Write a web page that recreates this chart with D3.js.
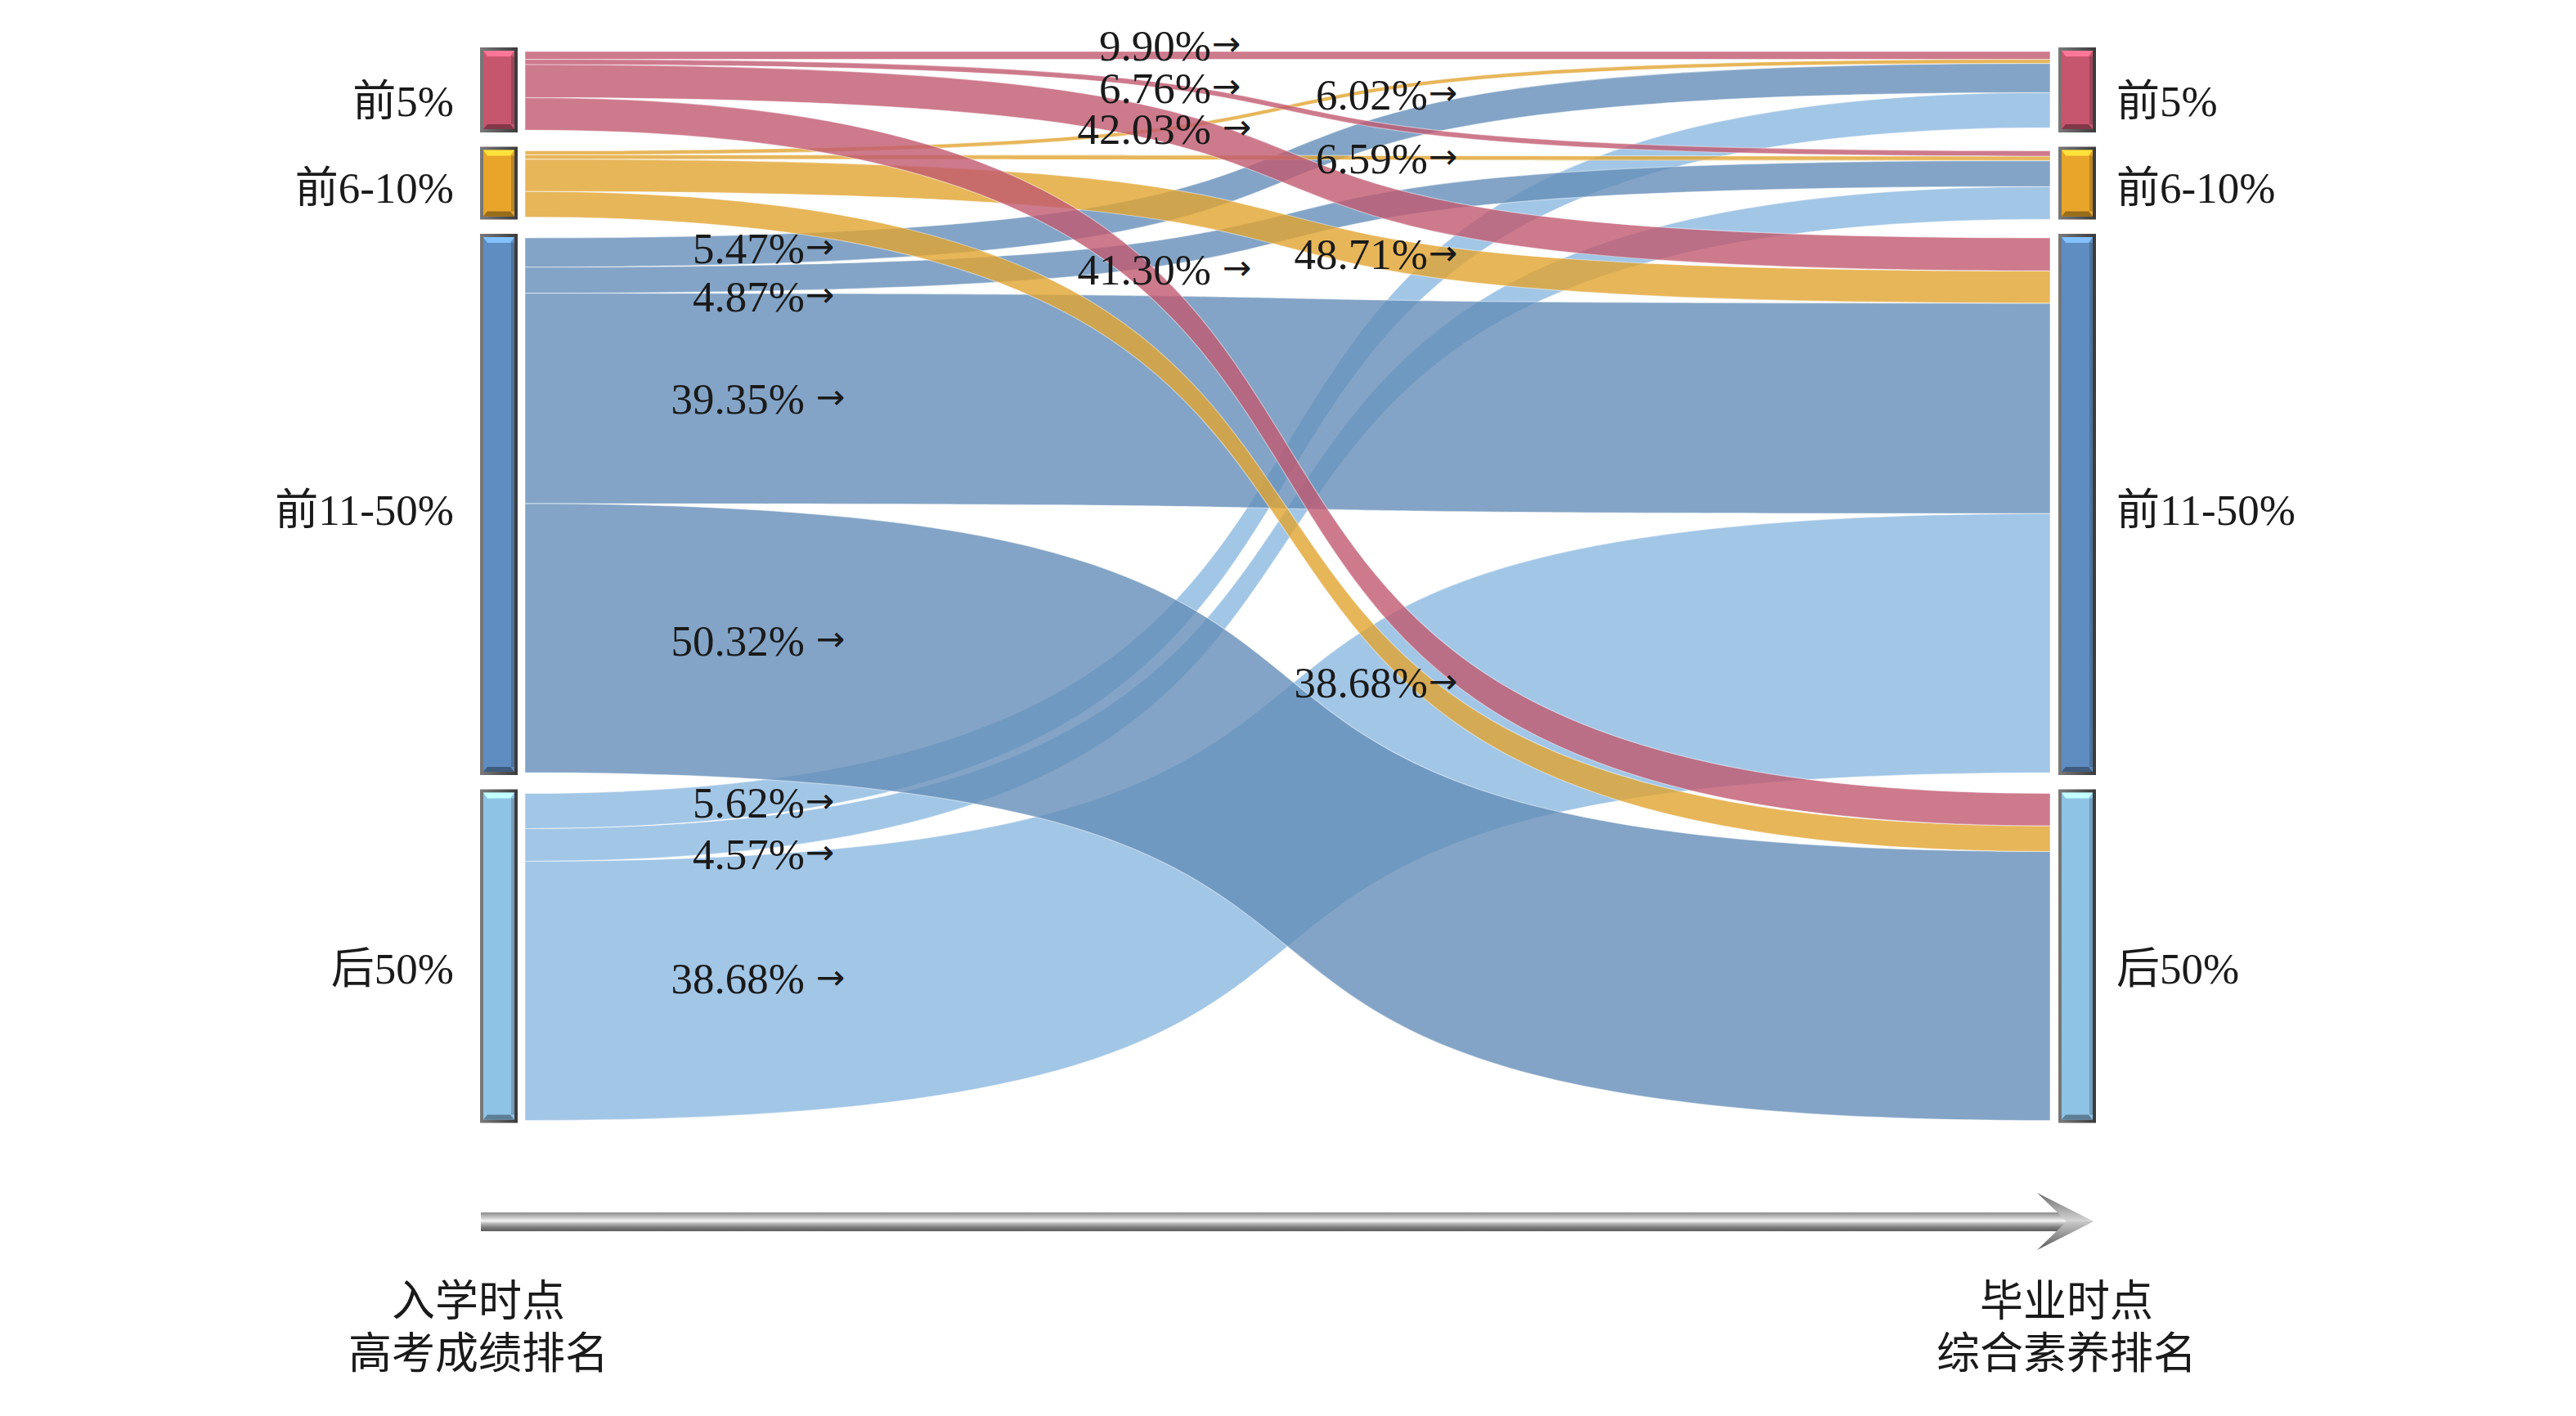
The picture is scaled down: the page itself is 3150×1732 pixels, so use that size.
<!DOCTYPE html>
<html>
<head>
<meta charset="utf-8">
<script src="https://cdn.jsdelivr.net/npm/d3@7"></script>
<style>
  body { margin: 0; background: #fff; }
  text { font-family: "Liberation Serif", "Noto Sans CJK SC", serif; fill: #1a1a1a; }
</style>
</head>
<body>
<div id="chart"></div>
<script>
// rank groups, used on both sides (entry: gaokao rank, graduation: overall rank)
const groups = ["前5%", "前6-10%", "前11-50%", "后50%"];
// relative size of each group
const groupSize = [96, 81, 654, 400];
// share (%) of the source bar covered by the band to each graduation group, as drawn
const bandShare = [
  [9.90, 6.76, 42.03, 41.30],
  [6.02, 6.59, 48.71, 38.68],
  [5.47, 4.87, 39.35, 50.32],
  [10.75, 10.00, 79.25, 0]
];
// printed percentages next to the bands
const flowLabel = [
  ["9.90%→", "6.76%→", "42.03% →", "41.30% →"],
  ["6.02%→", "6.59%→", "48.71%→", "38.68%→"],
  ["5.47%→", "4.87%→", "39.35% →", "50.32% →"],
  ["5.62%→", "4.57%→", "38.68% →", null]
];
const axisText = [["入学时点", "高考成绩排名"], ["毕业时点", "综合素养排名"]];

const nodeColor = ["#c6566e", "#e8a52a", "#5f8dc2", "#8ec3e6"];
const linkColor = ["#c1596f", "#e1a42f", "#648db8", "#8bb8e0"];

const W = 3150, H = 1732;
const topY = 63, bottomY = 1370.5, pad = 25.5;
const barW = 46, leftBarX = 587, rightBarX = 2517;
const curv = 0.72;           // bezier control point position
const fs = 53;

const svg = d3.select("#chart").append("svg")
  .attr("width", W).attr("height", H)
  .attr("viewBox", [0, 0, W, H]);

const y = d3.scaleLinear()
  .domain([0, d3.sum(groupSize)])
  .range([0, bottomY - topY - pad * (groups.length - 1)]);
const x = d3.scaleLinear().domain([0, 1]).range([642, 2507]);

// node positions
let acc = 0;
const nodes = groups.map((g, i) => {
  const y0 = topY + y(acc) + i * pad;
  acc += groupSize[i];
  return { name: g, i, y0, y1: y0 + y(groupSize[i]) };
});

// links, stacked on the left in target order and on the right in source order
const links = [];
const srcOff = nodes.map(n => n.y0);
const tgtOff = nodes.map(n => n.y0);
bandShare.forEach((row, s) => {
  row.forEach((p, t) => {
    if (!p) return;
    const w = y(groupSize[s] * p / 100);
    links.push({ s, t, w, label: flowLabel[s][t], sy0: srcOff[s], sy1: srcOff[s] + w });
    srcOff[s] += w;
  });
});
for (let s = 0; s < groups.length; s++) {
  links.filter(l => l.s === s).forEach(l => {
    l.ty0 = tgtOff[l.t]; l.ty1 = tgtOff[l.t] + l.w;
    tgtOff[l.t] += l.w;
  });
}

function bandPath(l) {
  const x0 = x(0), x1 = x(1), dx = x1 - x0;
  const p = d3.path();
  p.moveTo(x0, l.sy0);
  p.bezierCurveTo(x0 + curv * dx, l.sy0, x1 - curv * dx, l.ty0, x1, l.ty0);
  p.lineTo(x1, l.ty1);
  p.bezierCurveTo(x1 - curv * dx, l.ty1, x0 + curv * dx, l.sy1, x0, l.sy1);
  p.closePath();
  return p.toString();
}

// y of a link's centre line at a given x
function centreAt(l, px) {
  const xn = (px - x(0)) / (x(1) - x(0));
  const bx = t => 3 * (1 - t) * (1 - t) * t * curv + 3 * (1 - t) * t * t * (1 - curv) + t * t * t;
  let lo = 0, hi = 1;
  for (let k = 0; k < 40; k++) { const m = (lo + hi) / 2; if (bx(m) < xn) lo = m; else hi = m; }
  const t = (lo + hi) / 2;
  const yn = 3 * t * t - 2 * t * t * t;
  const a = (l.sy0 + l.sy1) / 2, b = (l.ty0 + l.ty1) / 2;
  return a + (b - a) * yn;
}

const defs = svg.append("defs");
function grad(id, stops, vertical = true) {
  const g = defs.append("linearGradient").attr("id", id)
    .attr("x1", 0).attr("y1", 0).attr("x2", vertical ? 0 : 1).attr("y2", vertical ? 1 : 0);
  stops.forEach(([o, c]) => g.append("stop").attr("offset", o).attr("stop-color", c));
}
grad("shaft", [[0, "#8a8a8a"], [0.25, "#c4c4c4"], [0.45, "#f4f4f4"], [0.6, "#b5b5b5"], [0.8, "#7a7a7a"], [1, "#5e5e5e"]]);
grad("headTop", [[0, "#6c6c6c"], [1, "#d6d6d6"]]);
grad("headBot", [[0, "#c9c9c9"], [1, "#5a5a5a"]]);
grad("frame", [[0, "#7a7a7a"], [0.5, "#5a5a5a"], [1, "#3a3a3a"]], false);

// bands, later sources on top
svg.append("g")
  .selectAll("path")
  .data(links.slice().sort((a, b) => b.s - a.s))
  .join("path")
  .attr("d", bandPath)
  .attr("fill", d => linkColor[d.s])
  .attr("fill-opacity", 0.8)
  .attr("stroke", "#fff")
  .attr("stroke-opacity", 0.45)
  .attr("stroke-width", 1.2);

// bevelled bars
function drawBars(bx) {
  const g = svg.append("g").selectAll("g").data(nodes).join("g");
  const r = d => ({ x: bx, y: d.y0 - 5, h: d.y1 - d.y0 + 8 });
  g.append("rect")
    .attr("x", bx).attr("y", d => r(d).y)
    .attr("width", barW).attr("height", d => r(d).h)
    .attr("fill", "url(#frame)");
  g.append("rect")
    .attr("x", bx + 4).attr("y", d => r(d).y + 4)
    .attr("width", barW - 8).attr("height", d => r(d).h - 8)
    .attr("fill", d => nodeColor[d.i]);
  g.append("path")
    .attr("d", d => {
      const yy = r(d).y + 4;
      return `M${bx + 4},${yy}H${bx + barW - 4}L${bx + barW - 9},${yy + 7}H${bx + 9}Z`;
    })
    .attr("fill", d => d3.color(nodeColor[d.i]).brighter(0.9));
  g.append("path")
    .attr("d", d => {
      const yy = r(d).y + r(d).h - 4;
      return `M${bx + 4},${yy}H${bx + barW - 4}L${bx + barW - 9},${yy - 6}H${bx + 9}Z`;
    })
    .attr("fill", d => d3.color(nodeColor[d.i]).darker(1.2));
  g.append("rect")
    .attr("x", bx + barW - 8).attr("y", d => r(d).y + 11)
    .attr("width", 4).attr("height", d => r(d).h - 21)
    .attr("fill", d => d3.color(nodeColor[d.i]).darker(0.6));
}
drawBars(leftBarX);
drawBars(rightBarX);

// group names
const nameDy = [12, 4, 5, 14];
svg.append("g").selectAll("text").data(nodes).join("text")
  .attr("x", leftBarX - 32).attr("y", d => (d.y0 + d.y1) / 2 + nameDy[d.i])
  .attr("dy", "0.35em").attr("text-anchor", "end")
  .style("font-size", fs + "px").text(d => d.name);
svg.append("g").selectAll("text").data(nodes).join("text")
  .attr("x", rightBarX + barW + 25).attr("y", d => (d.y0 + d.y1) / 2 + nameDy[d.i])
  .attr("dy", "0.35em").attr("text-anchor", "start")
  .style("font-size", fs + "px").text(d => d.name);

// percentage labels: "%" aligned per source column, placed on the band
const colX = [1481, 1746, 984, 984];
// hand placement offsets used in the original figure
const labelDy = [
  [-12, 4, 6, -18],
  [4, 0, 4, 60],
  [-2, 22, 0, -4],
  [4, 24, -8, 0]
];
const lab = svg.append("g").selectAll("g").data(links.filter(l => l.label)).join("g");
lab.each(function (l) {
  const g = d3.select(this);
  const cx = colX[l.s];
  const cy = centreAt(l, cx - 70) + labelDy[l.s][l.t];
  const parts = l.label.split("%");
  g.append("text")
    .attr("x", cx).attr("y", cy).attr("dy", "0.35em")
    .attr("text-anchor", "end")
    .style("font-size", fs + "px")
    .text(parts[0] + "%");
  g.append("text")
    .attr("x", cx + (parts[1].startsWith(" ") ? 14 : 1)).attr("y", cy).attr("dy", "0.3em")
    .attr("text-anchor", "start")
    .style("font-size", (fs * 0.8) + "px")
    .style("font-family", "DejaVu Sans")
    .text(parts[1].trim());
});

// time arrow
const ay0 = 1483, ay1 = 1506, ax0 = 588, back = 2491, notch = 2527, tip = 2560, am = 1494;
svg.append("rect")
  .attr("x", ax0).attr("y", ay0).attr("width", notch - ax0).attr("height", ay1 - ay0)
  .attr("fill", "url(#shaft)");
svg.append("path")
  .attr("d", `M${back},1459L${tip},${am}L${notch},${am}Z`)
  .attr("fill", "url(#headTop)");
svg.append("path")
  .attr("d", `M${back},1529L${tip},${am}L${notch},${am}Z`)
  .attr("fill", "url(#headBot)");

// time point captions
const capX = [585, 2527];
axisText.forEach((lines, k) => {
  svg.append("text")
    .attr("x", capX[k]).attr("text-anchor", "middle")
    .style("font-size", fs + "px")
    .selectAll("tspan").data(lines).join("tspan")
    .attr("x", capX[k]).attr("y", (d, i) => 1610 + i * 64)
    .text(d => d);
});
</script>
</body>
</html>
